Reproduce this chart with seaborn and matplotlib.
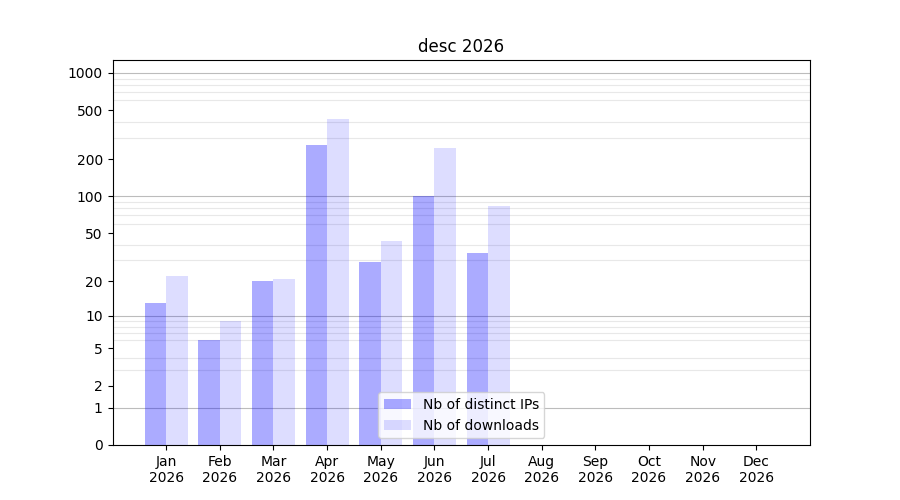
import numpy as np
import pandas as pd
import seaborn as sns
import matplotlib
matplotlib.use('Agg')
import matplotlib.pyplot as plt

months = ['Jan', 'Feb', 'Mar', 'Apr', 'May', 'Jun', 'Jul', 'Aug', 'Sep', 'Oct', 'Nov', 'Dec']
year = '2026'
distinct_ips = [13, 6, 20, 259, 29, 100, 34, 0, 0, 0, 0, 0]
downloads = [22, 9, 21, 428, 43, 249, 84, 0, 0, 0, 0, 0]
series_names = ['Nb of distinct IPs', 'Nb of downloads']
y_ticks = [0, 1, 2, 5, 10, 20, 50, 100, 200, 500, 1000]

df = pd.DataFrame({
    'month': months * 2,
    'count': distinct_ips + downloads,
    'series': [series_names[0]] * 12 + [series_names[1]] * 12,
})

fig, ax = plt.subplots(figsize=(9, 5), dpi=100)

sns.barplot(data=df, x='month', y='count', hue='series', order=months,
            hue_order=series_names, palette=['blue', 'blue'], width=0.8,
            saturation=1, legend=False, ax=ax)

# transparent blue like the original
alphas = [0.33, 0.135]
for cont, a in zip(ax.containers, alphas):
    for p in cont:
        p.set_facecolor((0, 0, 1, a))
        p.set_edgecolor('none')

# log(x+1) scale
ax.set_yscale('function', functions=(lambda v: np.log10(np.clip(v, 0, None) + 1),
                                     lambda v: 10 ** v - 1))
ax.set_ylim(0, 1270)
ax.set_xlim(-1, 12)

ax.set_yticks(y_ticks)
ax.set_yticklabels([str(t) for t in y_ticks])
minor = [m * d for d in (1, 10, 100) for m in range(2, 10)]
ax.set_yticks(minor, minor=True)
ax.tick_params(axis='y', which='minor', length=0)
ax.yaxis.grid(True, which='minor', color='#e8e8e8', linewidth=0.8, zorder=0)
for d in (1, 10, 100, 1000):
    ax.axhline(d, color='#bcbcbc', linewidth=0.8, zorder=0.6)
ax.set_axisbelow(True)

ax.set_xticks(range(12))
ax.set_xticklabels([m + '\n' + year for m in months])
ax.set_xlabel('')
ax.set_ylabel('')
ax.set_title('desc 2026')

ax.legend(ax.containers, series_names, loc='lower center')

plt.savefig('out.png', dpi=100)
